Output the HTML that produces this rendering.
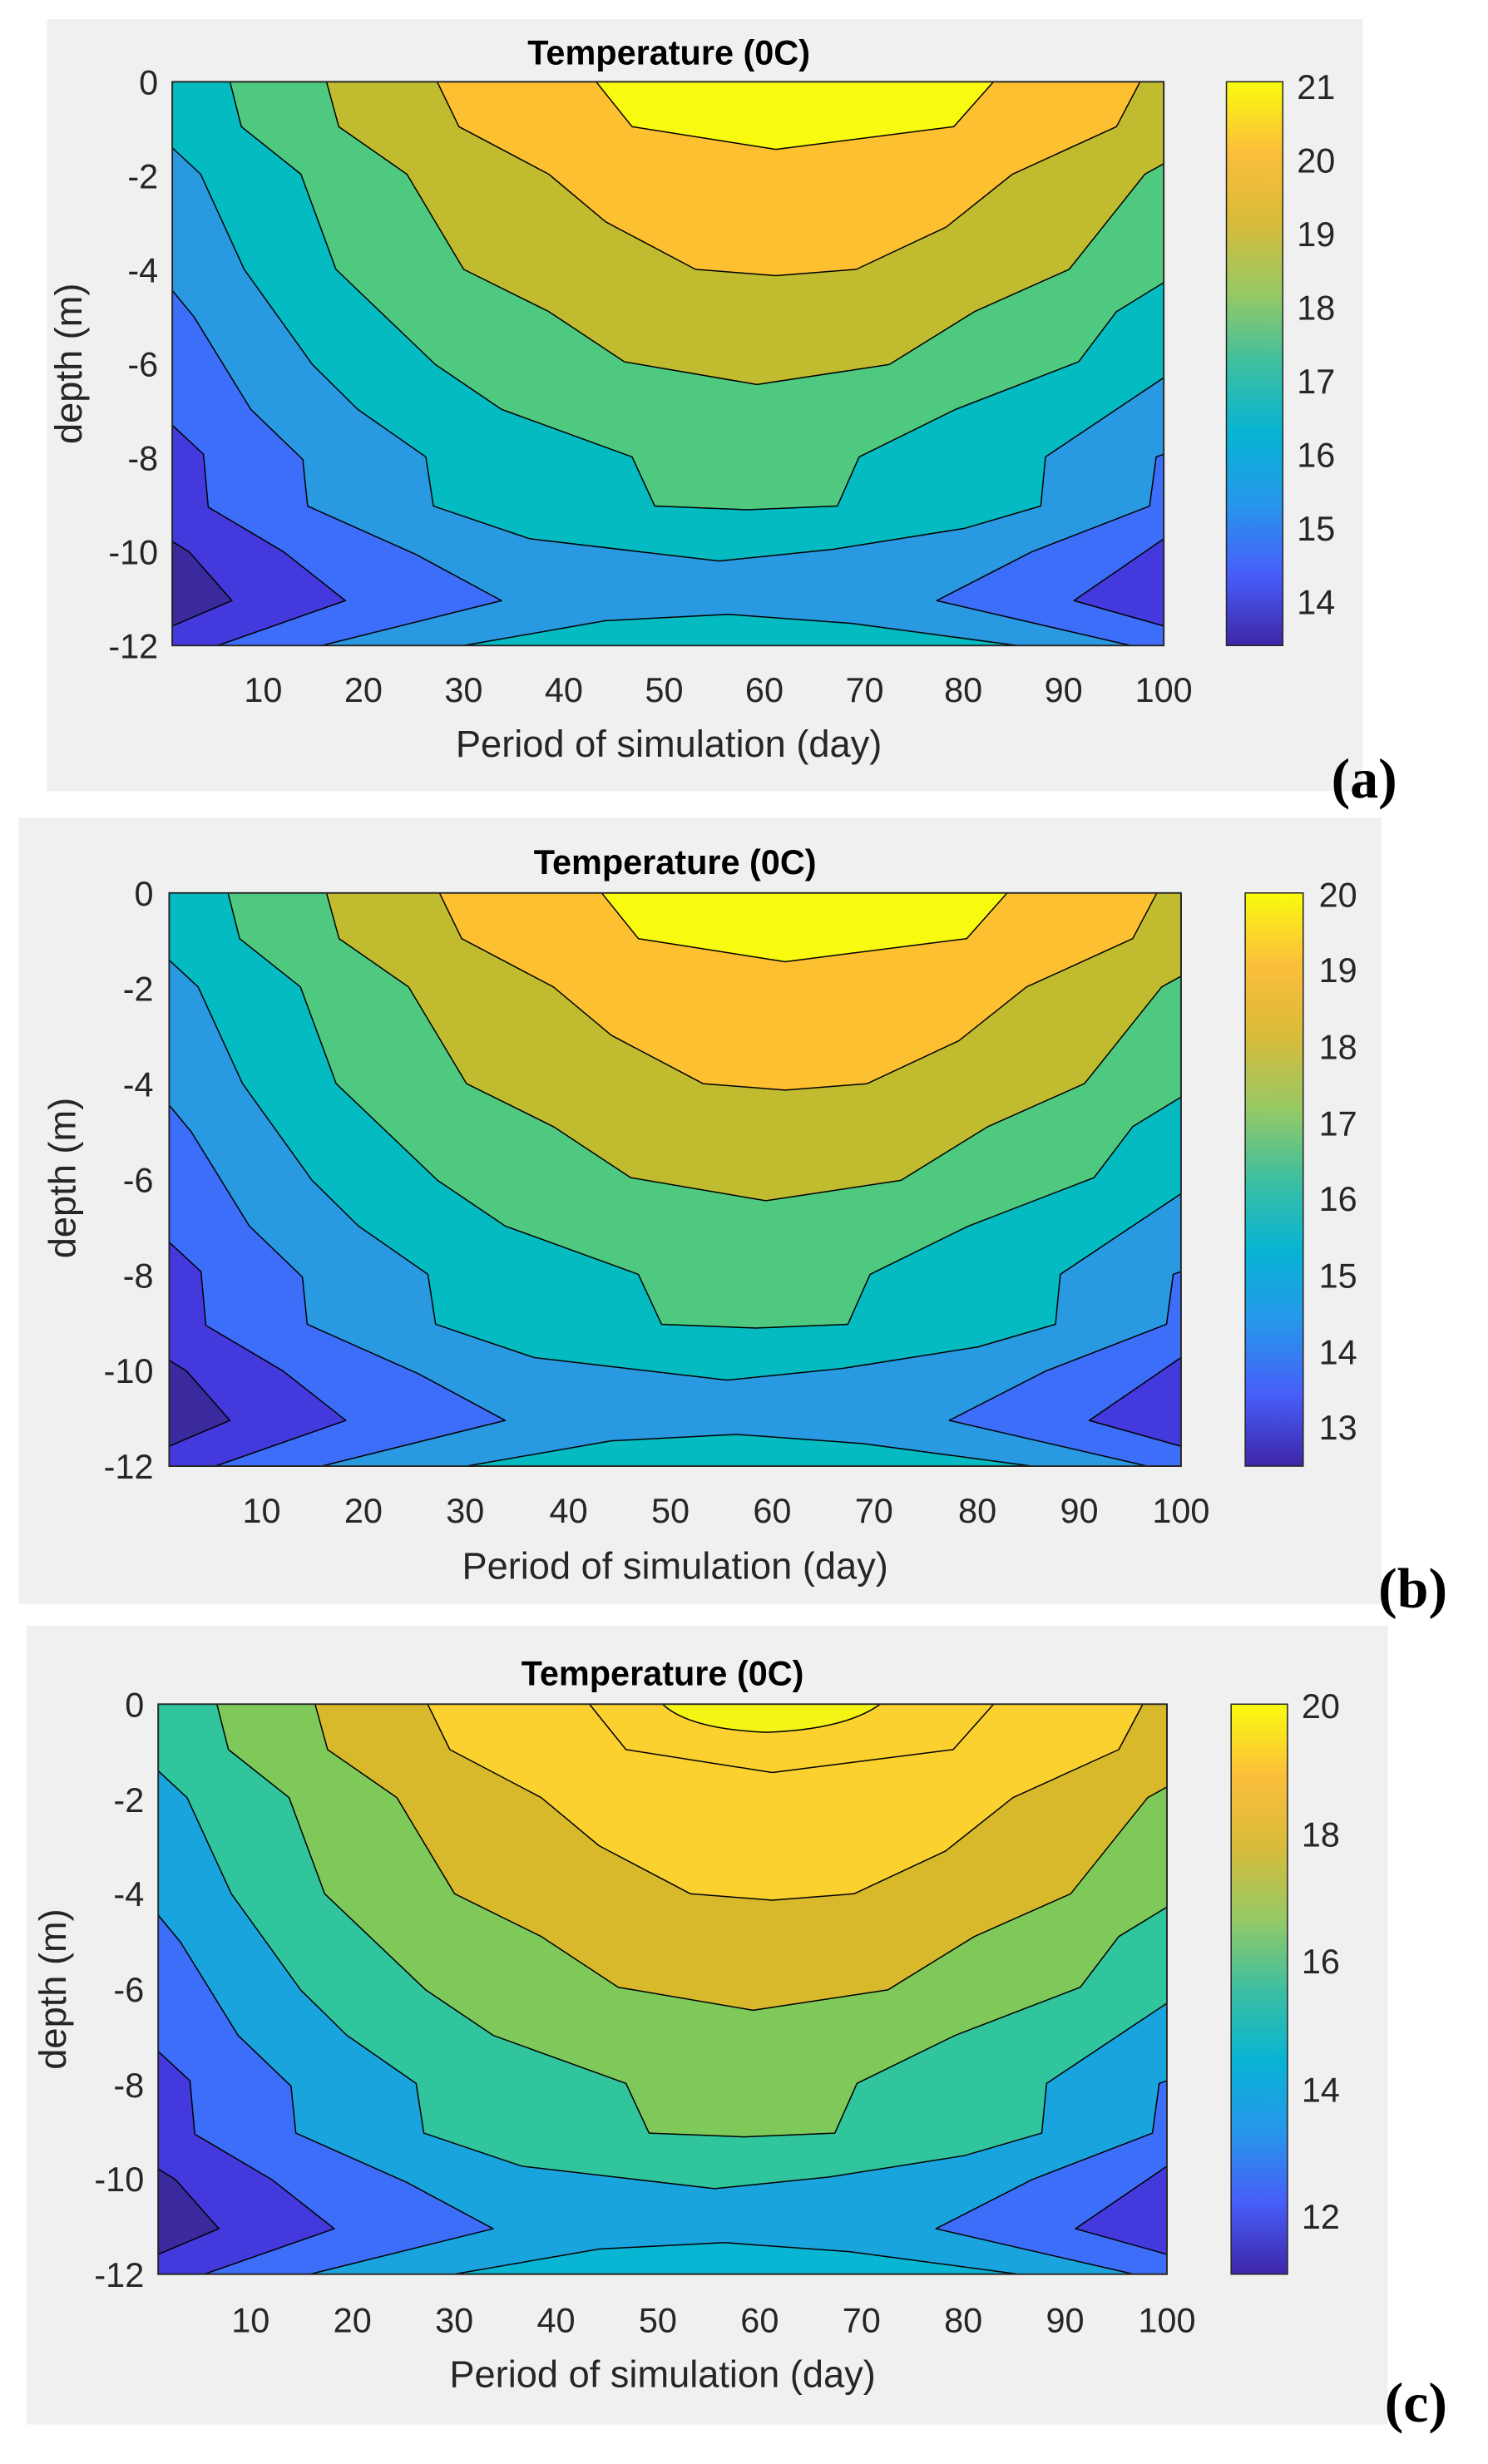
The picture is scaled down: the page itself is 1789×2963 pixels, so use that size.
<!DOCTYPE html>
<html><head><meta charset="utf-8"><style>
html,body{margin:0;padding:0;background:#fff;}
svg{display:block;}
text{font-family:"Liberation Sans",sans-serif;fill:#262626;}
.t{font-weight:bold;font-size:22px;fill:#000;text-anchor:middle;}
.yl{font-size:22px;text-anchor:end;}
.xl{font-size:22px;text-anchor:middle;}
.lab{font-size:24px;text-anchor:middle;}
.cl{font-size:22px;text-anchor:start;}
.pl{font-family:"Liberation Serif",serif;font-size:36px;fill:#000;font-weight:bold;}
</style></head><body>
<svg width="1789" height="2963" viewBox="0 0 950 1573" xmlns="http://www.w3.org/2000/svg">
<defs>
<linearGradient id="par" x1="0" y1="1" x2="0" y2="0">
<stop offset="0" stop-color="#3e26a8"/><stop offset="0.125" stop-color="#475ef9"/>
<stop offset="0.25" stop-color="#2796eb"/><stop offset="0.375" stop-color="#07b4d4"/>
<stop offset="0.5" stop-color="#3dbfa0"/><stop offset="0.625" stop-color="#97c964"/>
<stop offset="0.75" stop-color="#d8bb3a"/><stop offset="0.875" stop-color="#fcbe3b"/>
<stop offset="1" stop-color="#f9fb0e"/></linearGradient>
<g id="sh" stroke="#000" stroke-width="1.5" stroke-linejoin="round">
<rect x="182" y="155" width="1048" height="1067" style="fill:var(--b)" stroke="none"/>
<polygon style="fill:var(--c5)" vector-effect="non-scaling-stroke" points="182,155 182,280 212,330 258,510 330,690 378,775 450,865 458,958 560,1020 760,1062 880,1040 1020,1000 1100,958 1105,865 1180,775 1230,715 1230,155"/>
<polygon style="fill:var(--c4)" vector-effect="non-scaling-stroke" points="243,155 255,240 318,330 355,510 460,690 530,775 668,865 692,958 790,965 885,958 908,865 1010,775 1140,685 1180,590 1230,535 1230,155"/>
<polygon style="fill:var(--c3)" vector-effect="non-scaling-stroke" points="345,155 358,240 430,330 490,510 580,590 660,685 800,728 940,690 1030,590 1130,510 1210,330 1230,310 1230,155"/>
<polygon style="fill:var(--c2)" vector-effect="non-scaling-stroke" points="462,155 485,240 580,330 640,420 735,510 820,522 905,510 1000,430 1070,330 1180,240 1205,155"/>
<polygon style="fill:var(--c1)" vector-effect="non-scaling-stroke" points="630,155 668,240 820,283 1008,240 1050,155"/>
<polygon style="fill:var(--c6)" vector-effect="non-scaling-stroke" points="182,550 205,600 265,775 320,870 325,958 440,1050 530,1137 340,1222 182,1222"/>
<polygon style="fill:var(--c7)" vector-effect="non-scaling-stroke" points="182,805 215,860 220,960 300,1045 365,1137 230,1222 182,1222"/>
<polygon style="fill:var(--c8)" vector-effect="non-scaling-stroke" points="182,1025 200,1045 245,1137 182,1185"/>
<polygon style="fill:var(--c6)" vector-effect="non-scaling-stroke" points="1230,860 1222,865 1215,958 1090,1045 990,1137 1195,1222 1230,1222"/>
<polygon style="fill:var(--c7)" vector-effect="non-scaling-stroke" points="1230,1020 1135,1137 1230,1185"/>
<polygon style="fill:var(--c5b)" vector-effect="non-scaling-stroke" points="490,1222 640,1175 770,1163 900,1180 1075,1222"/>
</g>
</defs>

<!-- Panel a -->
<rect x="30" y="12" width="840" height="493" fill="#f0f0f0"/>
<g style="--b:#2999e1;--c1:#f8fa0f;--c2:#fdc030;--c3:#c1bc2f;--c4:#4ec97f;--c5:#03bbc1;--c5b:#03bbc1;--c6:#3d6ef9;--c7:#4439dc;--c8:#3a2a9e">
<use href="#sh" transform="translate(110,52) scale(0.604,0.3374) translate(-182,-155)"/>
</g>
<rect x="110" y="52" width="633" height="360" fill="none" stroke="#262626" stroke-width="1"/>
<text class="t" x="427" y="41">Temperature (0C)</text>
<g class="yl"><text x="101" y="60">0</text><text x="101" y="120">-2</text><text x="101" y="180">-4</text><text x="101" y="240">-6</text><text x="101" y="300">-8</text><text x="101" y="360">-10</text><text x="101" y="420">-12</text></g>
<g class="xl"><text x="168" y="448">10</text><text x="232" y="448">20</text><text x="296" y="448">30</text><text x="360" y="448">40</text><text x="424" y="448">50</text><text x="488" y="448">60</text><text x="552" y="448">70</text><text x="615" y="448">80</text><text x="679" y="448">90</text><text x="743" y="448">100</text></g>
<text class="lab" x="427" y="483">Period of simulation (day)</text>
<text class="lab" transform="translate(52,232) rotate(-90)">depth (m)</text>
<rect x="783" y="52" width="36" height="360" fill="url(#par)" stroke="#262626" stroke-width="0.8"/>
<g class="cl"><text x="828" y="63">21</text><text x="828" y="110">20</text><text x="828" y="157">19</text><text x="828" y="204">18</text><text x="828" y="251">17</text><text x="828" y="298">16</text><text x="828" y="345">15</text><text x="828" y="392">14</text></g>
<text class="pl" x="850" y="509">(a)</text>

<!-- Panel b -->
<rect x="12" y="522" width="870" height="502" fill="#f0f0f0"/>
<g style="--b:#2999e1;--c1:#f8fa0f;--c2:#fdc030;--c3:#c1bc2f;--c4:#4ec97f;--c5:#03bbc1;--c5b:#03bbc1;--c6:#3d6ef9;--c7:#4439dc;--c8:#3a2a9e">
<use href="#sh" transform="translate(108,570) scale(0.6164,0.343) translate(-182,-155)"/>
</g>
<rect x="108" y="570" width="646" height="366" fill="none" stroke="#262626" stroke-width="1"/>
<text class="t" x="431" y="558">Temperature (0C)</text>
<g class="yl"><text x="98" y="578">0</text><text x="98" y="639">-2</text><text x="98" y="700">-4</text><text x="98" y="761">-6</text><text x="98" y="822">-8</text><text x="98" y="883">-10</text><text x="98" y="944">-12</text></g>
<g class="xl"><text x="167" y="972">10</text><text x="232" y="972">20</text><text x="297" y="972">30</text><text x="363" y="972">40</text><text x="428" y="972">50</text><text x="493" y="972">60</text><text x="558" y="972">70</text><text x="624" y="972">80</text><text x="689" y="972">90</text><text x="754" y="972">100</text></g>
<text class="lab" x="431" y="1008">Period of simulation (day)</text>
<text class="lab" transform="translate(48,752) rotate(-90)">depth (m)</text>
<rect x="795" y="570" width="37" height="366" fill="url(#par)" stroke="#262626" stroke-width="0.8"/>
<g class="cl"><text x="842" y="579">20</text><text x="842" y="627">19</text><text x="842" y="676">18</text><text x="842" y="725">17</text><text x="842" y="773">16</text><text x="842" y="822">15</text><text x="842" y="871">14</text><text x="842" y="919">13</text></g>
<text class="pl" x="880" y="1026">(b)</text>

<!-- Panel c -->
<rect x="17" y="1038" width="869" height="510" fill="#f0f0f0"/>
<g style="--b:#1aa4de;--c1:#fbd12f;--c2:#fbd12f;--c3:#d9b92c;--c4:#7fc95a;--c5:#30c59c;--c5b:#08b5d3;--c6:#3d6ef9;--c7:#4439dc;--c8:#3a2a9e">
<use href="#sh" transform="translate(101,1088) scale(0.6145,0.3411) translate(-182,-155)"/>
</g>
<path d="M423,1088 Q440,1104 490,1106 Q540,1104 562,1088 Z" fill="#f5f515" stroke="#000" stroke-width="0.8"/>
<rect x="101" y="1088" width="644" height="364" fill="none" stroke="#262626" stroke-width="1"/>
<text class="t" x="423" y="1076">Temperature (0C)</text>
<g class="yl"><text x="92" y="1096">0</text><text x="92" y="1157">-2</text><text x="92" y="1217">-4</text><text x="92" y="1278">-6</text><text x="92" y="1339">-8</text><text x="92" y="1399">-10</text><text x="92" y="1460">-12</text></g>
<g class="xl"><text x="160" y="1489">10</text><text x="225" y="1489">20</text><text x="290" y="1489">30</text><text x="355" y="1489">40</text><text x="420" y="1489">50</text><text x="485" y="1489">60</text><text x="550" y="1489">70</text><text x="615" y="1489">80</text><text x="680" y="1489">90</text><text x="745" y="1489">100</text></g>
<text class="lab" x="423" y="1524">Period of simulation (day)</text>
<text class="lab" transform="translate(42,1270) rotate(-90)">depth (m)</text>
<rect x="786" y="1088" width="36" height="364" fill="url(#par)" stroke="#262626" stroke-width="0.8"/>
<g class="cl"><text x="831" y="1097">20</text><text x="831" y="1179">18</text><text x="831" y="1260">16</text><text x="831" y="1342">14</text><text x="831" y="1423">12</text></g>
<text class="pl" x="884" y="1546">(c)</text>
</svg>
</body></html>
